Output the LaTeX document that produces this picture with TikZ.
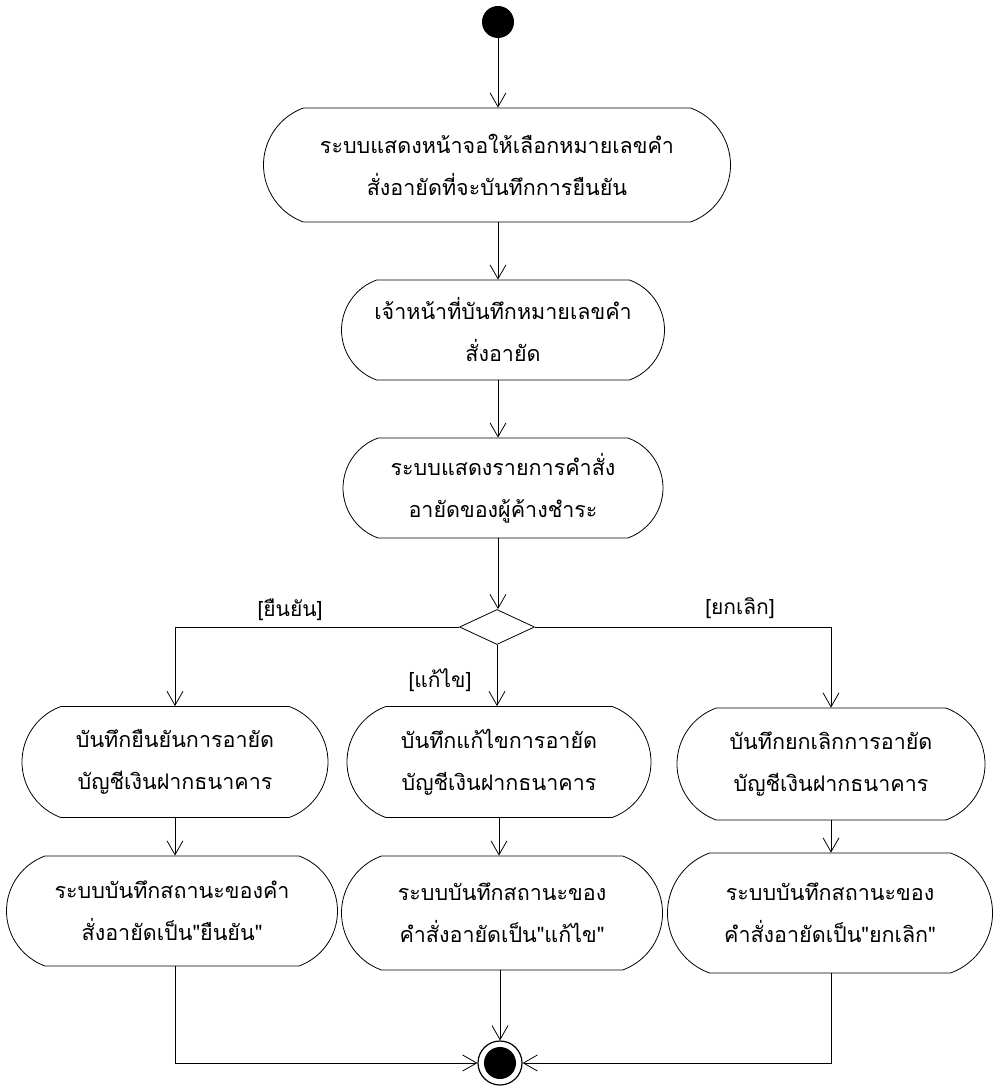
\documentclass[tikz,border=0pt]{standalone}
\usepackage{fontspec}
\newfontfamily\thaifont[Script=Thai]{Loma}
\usetikzlibrary{shapes.misc,shapes.geometric,arrows.meta}
\begin{document}
\begin{tikzpicture}[x=1pt,y=-1pt,
  act/.style={rounded rectangle, rounded rectangle arc length=140, draw, line width=0.8pt,
    align=center, inner sep=0pt, font=\thaifont\fontsize{21.5}{42}\selectfont},
  guard/.style={font=\thaifont\fontsize{21}{24}\selectfont, inner sep=1pt},
  arr/.style={line width=0.8pt, -{Straight Barb[length=14pt,width=16pt,line width=0.8pt]}},
  flowline/.style={line width=0.8pt}]
\useasboundingbox (0,0) rectangle (996,1086);
\node[circle, fill=black, minimum size=32pt, inner sep=0pt] (start) at (498,22) {};
\node[act, minimum width=467pt, minimum height=114pt] (b1) at (497,165)
  {ระบบแสดงหน้าจอให้เลือกหมายเลขคำ\\สั่งอายัดที่จะบันทึกการยืนยัน};
\node[act, minimum width=323pt, minimum height=100pt] (b2) at (503,330)
  {เจ้าหน้าที่บันทึกหมายเลขคำ\\สั่งอายัด};
\node[act, minimum width=320pt, minimum height=100pt] (b3) at (503,488)
  {ระบบแสดงรายการคำสั่ง\\อายัดของผู้ค้างชำระ};
\node[diamond, draw, line width=0.8pt, minimum width=75pt, minimum height=35pt, inner sep=0pt] (dec) at (497,627) {};
\node[act, minimum width=306pt, minimum height=111pt] (b4) at (175,762)
  {บันทึกยืนยันการอายัด\\บัญชีเงินฝากธนาคาร};
\node[act, minimum width=304pt, minimum height=111pt] (b5) at (499,762)
  {บันทึกแก้ไขการอายัด\\บัญชีเงินฝากธนาคาร};
\node[act, minimum width=308pt, minimum height=112pt] (b6) at (831,764)
  {บันทึกยกเลิกการอายัด\\บัญชีเงินฝากธนาคาร};
\node[act, minimum width=331pt, minimum height=110pt] (b7) at (172,911)
  {ระบบบันทึกสถานะของคำ\\สั่งอายัดเป็น"ยืนยัน"};
\node[act, minimum width=321pt, minimum height=114pt] (b8) at (502,913)
  {ระบบบันทึกสถานะของ\\คำสั่งอายัดเป็น"แก้ไข"};
\node[act, minimum width=325pt, minimum height=120pt] (b9) at (830,913)
  {ระบบบันทึกสถานะของ\\คำสั่งอายัดเป็น"ยกเลิก"};
\node[circle, draw, line width=1.2pt, minimum size=44pt, inner sep=0pt] (fin) at (500,1063) {};
\fill (fin.center) circle (16pt);
\node[guard] (g1) at (290,610) {[ยืนยัน]};
\node[guard] (g2) at (440,680) {[แก้ไข]};
\node[guard] (g3) at (740,608) {[ยกเลิก]};
\coordinate (cx) at (498,0);
\draw[arr] (start) -- (b1.north -| cx);
\draw[arr] (b1.south -| cx) -- (b2.north -| cx);
\draw[arr] (b2.south -| cx) -- (b3.north -| cx);
\draw[arr] (b3.south -| cx) -- (dec.north -| cx);
\draw[arr] (dec.west) -| (b4.north);
\draw[arr] (dec.south) -- (b5.north -| dec.south);
\draw[arr] (dec.east) -| (b6.north);
\draw[arr] (b4.south) -- (b7.north -| b4.south);
\draw[arr] (b5.south) -- (b8.north -| b5.south);
\draw[arr] (b6.south) -- (b9.north -| b6.south);
\draw[arr] (b7.south -| b4.south) |- (fin.west);
\draw[arr] (b8.south -| fin) -- (fin.north);
\draw[arr] (b9.south -| b6.south) |- (fin.east);
\end{tikzpicture}
\end{document}
